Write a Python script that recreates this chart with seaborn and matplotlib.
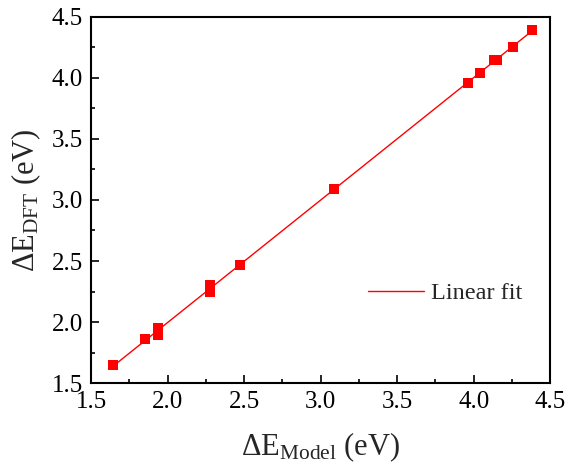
import numpy as np
import pandas as pd
import seaborn as sns
import matplotlib
matplotlib.use("Agg")
import matplotlib.pyplot as plt
from matplotlib.ticker import MultipleLocator

# Transition energies: model prediction vs DFT reference (eV)
e_model = [1.64, 1.85, 1.94, 1.94, 2.28, 2.28, 2.47, 3.09, 3.96, 4.04, 4.13, 4.15, 4.26, 4.38]
e_dft   = [1.65, 1.86, 1.89, 1.95, 2.25, 2.30, 2.47, 3.09, 3.96, 4.04, 4.15, 4.15, 4.25, 4.39]
tick_values = [1.5, 2.0, 2.5, 3.0, 3.5, 4.0, 4.5]

df = pd.DataFrame({"model": e_model, "dft": e_dft})

sns.set_theme(style="ticks")
plt.rcParams["font.family"] = ["Liberation Serif", "DejaVu Serif"]
plt.rcParams["mathtext.fontset"] = "custom"
plt.rcParams["mathtext.rm"] = "Liberation Serif"
plt.rcParams["mathtext.it"] = "Liberation Serif:italic"

fig, ax = plt.subplots(figsize=(5.66, 4.70), dpi=100)
fig.subplots_adjust(left=0.161, right=0.972, top=0.964, bottom=0.185)

sns.regplot(data=df, x="model", y="dft", ax=ax, scatter=False, ci=None,
            color="red", label="Linear fit", line_kws={"lw": 1.0})
sns.scatterplot(data=df, x="model", y="dft", ax=ax, marker="s", s=46,
                color="red", edgecolor="red", linewidth=0, zorder=3)

ax.set_xlim(1.5, 4.5)
ax.set_ylim(1.5, 4.5)
ax.set_xticks(tick_values)
ax.set_yticks(tick_values)
ax.set_xticklabels([f"{v:.1f}" for v in tick_values])
ax.set_yticklabels([f"{v:.1f}" for v in tick_values])
ax.xaxis.set_minor_locator(MultipleLocator(0.25))
ax.yaxis.set_minor_locator(MultipleLocator(0.25))
ax.tick_params(which="both", direction="in", top=False, right=False, width=1.2, colors="black")
ax.tick_params(which="major", length=6, labelsize=18, pad=6)
ax.tick_params(which="minor", length=3)
for sp in ax.spines.values():
    sp.set_linewidth(1.5)
    sp.set_color("black")

ax.set_xlabel(r"ΔE$_{\mathrm{Model}}$ (eV)", fontsize=22, labelpad=12)
ax.set_ylabel(r"ΔE$_{\mathrm{DFT}}$ (eV)", fontsize=22, labelpad=6)

handles = [h for h in ax.get_lines() if h.get_label() == "Linear fit"]
ax.legend(handles=handles, loc="center left", bbox_to_anchor=(0.556, 0.245), frameon=False,
          fontsize=17.5, handlelength=2.3, handletextpad=0.3)

fig.savefig("out.png", dpi=100)
